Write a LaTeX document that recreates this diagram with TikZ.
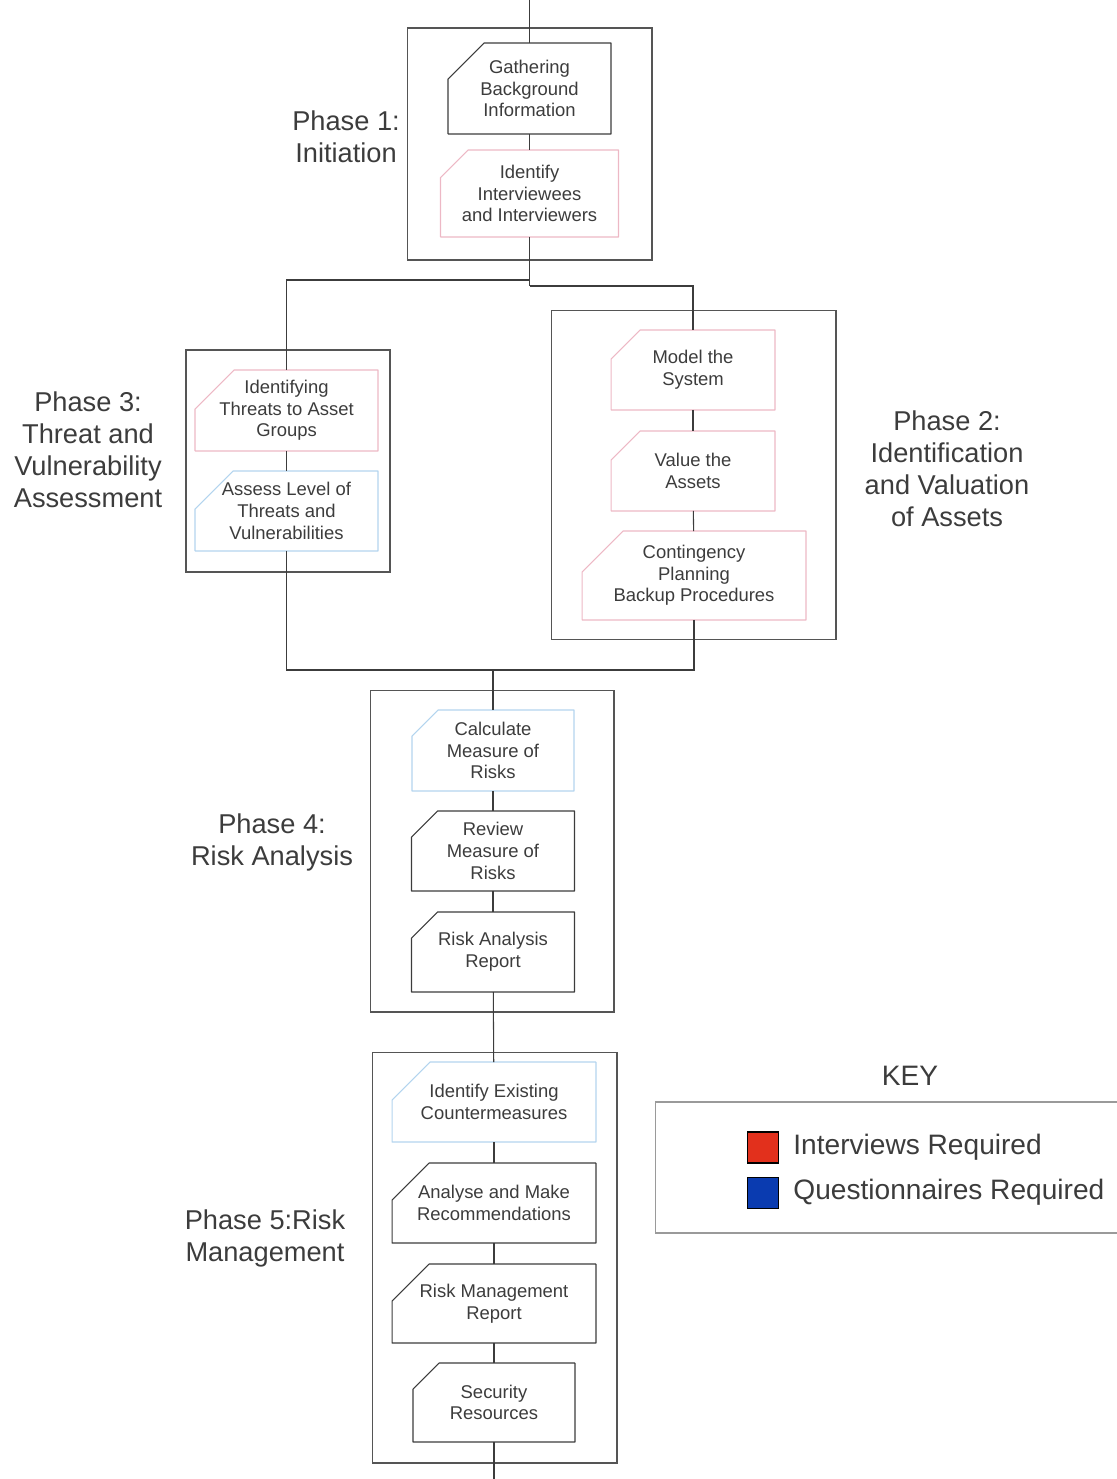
\documentclass[tikz,border=0pt]{standalone}
\usepackage{fontspec}
\setmainfont{Liberation Sans}
\usetikzlibrary{positioning}
\definecolor{Ink}{HTML}{3C3C3C}
\definecolor{Frame}{HTML}{555555}
\definecolor{Pink}{HTML}{EDB8C5}
\definecolor{Sky}{HTML}{B3D4EE}
\definecolor{KeyRed}{HTML}{E2301C}
\definecolor{KeyBlue}{HTML}{0A3BB0}
\definecolor{KeyLine}{HTML}{9A9A9A}

\begin{document}
\begin{tikzpicture}[
  x=0.02cm,y=-0.02cm,
  stepbox/.style 2 args={inner sep=0pt,outer sep=0pt,align=center,font=\fontsize{10.5}{12.3}\selectfont,text=Ink,
    append after command={\pgfextra{\draw[draw=#1,line width=0.6pt,line join=round]
      ([yshift=-#2]\tikzlastnode.north west) -- ([xshift=#2]\tikzlastnode.north west)
      -- (\tikzlastnode.north east) -- (\tikzlastnode.south east)
      -- (\tikzlastnode.south west) -- cycle;}}},
  frame/.style={draw=Frame,line width=0.6pt,inner sep=0pt,outer sep=0pt},
  phase/.style={align=center,font=\fontsize{15.5}{18.2}\selectfont,text=Ink},
  link/.style={draw=Ink,line width=0.6pt},
  keysq/.style={draw=black,line width=0.6pt,minimum size=0.62cm,inner sep=0pt},
  keytext/.style={inner sep=0pt,font=\fontsize{16}{19}\selectfont,text=Ink}
]
\useasboundingbox (0,0) rectangle (1116,1479);

\node[frame,minimum width=4.9cm,minimum height=4.64cm] (ph1) at (529.5,144) {};
\node[frame,minimum width=4.08cm,minimum height=4.44cm] (ph3) at (288,461) {};
\node[frame,minimum width=5.7cm,minimum height=6.6cm] (ph2) at (693.5,475) {};
\node[frame,minimum width=4.88cm,minimum height=6.44cm] (ph4) at (492,851) {};
\node[frame,minimum width=4.9cm,minimum height=8.22cm] (ph5) at (494.5,1257.5) {};

\node[stepbox={Ink}{0.72cm},minimum width=3.26cm,minimum height=1.82cm] (gather) at (529.5,88.5) {Gathering\\Background\\Information};
\node[stepbox={Pink}{0.55cm},minimum width=3.56cm,minimum height=1.74cm] (people) at (529.5,193.5) {Identify\\Interviewees\\and Interviewers};

\node[stepbox={Pink}{0.78cm},minimum width=3.66cm,minimum height=1.62cm] (threats) at (286.5,410.5) {Identifying\\Threats to Asset\\Groups};
\node[stepbox={Sky}{0.76cm},minimum width=3.66cm,minimum height=1.6cm] (vuln) at (286.5,511) {Assess Level of\\Threats and\\Vulnerabilities};

\node[stepbox={Pink}{0.58cm},minimum width=3.28cm,minimum height=1.6cm] (model) at (693,370) {Model the\\System};
\node[stepbox={Pink}{0.58cm},minimum width=3.28cm,minimum height=1.6cm] (value) at (693,471) {Value the\\Assets};
\node[stepbox={Pink}{0.82cm},minimum width=4.48cm,minimum height=1.78cm] (backup) at (694,575.5) {Contingency\\Planning\\Backup Procedures};

\node[stepbox={Sky}{0.52cm},minimum width=3.24cm,minimum height=1.62cm] (calc) at (493,750.5) {Calculate\\Measure of\\Risks};
\node[stepbox={Ink}{0.52cm},minimum width=3.26cm,minimum height=1.6cm] (review) at (493,851) {Review\\Measure of\\Risks};
\node[stepbox={Ink}{0.52cm},minimum width=3.26cm,minimum height=1.6cm] (rareport) at (493,952) {Risk Analysis\\Report};

\node[stepbox={Sky}{0.76cm},minimum width=4.08cm,minimum height=1.6cm] (counter) at (494,1102) {Identify Existing\\Countermeasures};
\node[stepbox={Ink}{0.74cm},minimum width=4.08cm,minimum height=1.6cm] (recommend) at (494,1203) {Analyse and Make\\Recommendations};
\node[stepbox={Ink}{0.74cm},minimum width=4.08cm,minimum height=1.58cm] (rmreport) at (494,1303.5) {Risk Management\\Report};
\node[stepbox={Ink}{0.52cm},minimum width=3.24cm,minimum height=1.58cm] (resources) at (494,1402.5) {Security\\Resources};

\node[phase] (lab1) at (346,137) {Phase 1:\\Initiation};
\node[phase] (lab3) at (88,450) {Phase 3:\\Threat and\\Vulnerability\\Assessment};
\node[phase] (lab2) at (947,469) {Phase 2:\\Identification\\and Valuation\\of Assets};
\node[phase] (lab4) at (272,842) {Phase 4:\\Risk Analysis};
\node[phase] (lab5) at (265,1238) {Phase 5:Risk\\Management};

\coordinate (start) at (529.5,0);
\coordinate (forkL) at (529.5,280);
\coordinate (forkR) at (529.5,286);
\coordinate (merge) at (493,670);
\coordinate (finish) at (494,1479);

\draw[link] (start) -- (gather);
\draw[link] (gather) -- (people);
\draw[link] (people) -- (forkR);
\draw[link] (forkL) -| (threats);
\draw[link] (forkR) -| (model);
\draw[link] (threats) -- (vuln);
\draw[link] (model) -- (value);
\draw[link] (value) -- (backup);
\draw[link] (vuln) |- (merge);
\draw[link] (backup) |- (merge);
\draw[link] (merge) -- (calc);
\draw[link] (calc) -- (review);
\draw[link] (review) -- (rareport);
\draw[link] (rareport) -- (counter);
\draw[link] (counter) -- (recommend);
\draw[link] (recommend) -- (rmreport);
\draw[link] (rmreport) -- (resources);
\draw[link] (resources) -- (finish);

\node[keytext] (keyhead) at (910,1076) {KEY};
\node[draw=KeyLine,line width=0.6pt,minimum width=9.3cm,minimum height=2.62cm] (keybox) at (888,1167.5) {};
\node[keysq,fill=KeyRed] (sqint) at (763,1147.5) {};
\node[keysq,fill=KeyBlue,below=0.26cm of sqint] (sqque) {};
\node[keytext,right=0.28cm of sqint] (txtint) {Interviews Required};
\node[keytext,right=0.28cm of sqque] (txtque) {Questionnaires Required};
\end{tikzpicture}
\end{document}
